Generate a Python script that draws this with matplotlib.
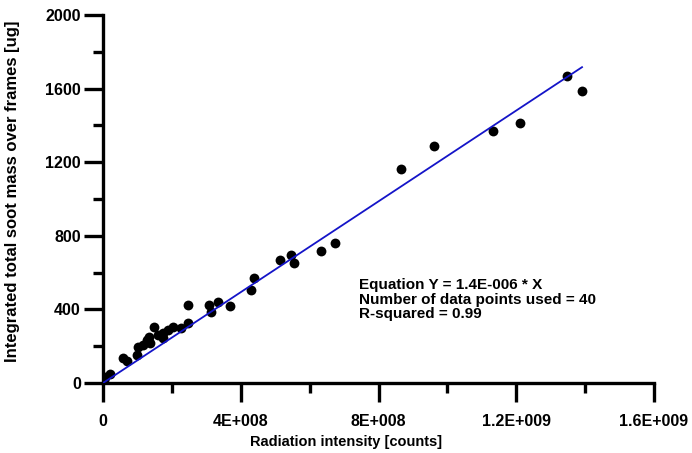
import matplotlib
matplotlib.use("Agg")
import matplotlib.pyplot as plt
from matplotlib.ticker import MultipleLocator, FixedLocator
import numpy as np

plt.rcParams['font.family'] = ['Liberation Sans', 'DejaVu Sans']

radiation = [0, 3e6, 6e6, 2.0e7, 5.9e7, 6.9e7, 9.8e7, 1.03e8, 1.15e8, 1.27e8,
             1.35e8, 1.36e8, 1.48e8, 1.6e8, 1.75e8, 1.75e8, 1.9e8, 2.02e8, 2.26e8,
             2.48e8, 2.48e8, 3.08e8, 3.14e8, 3.33e8, 3.70e8, 4.30e8, 4.39e8,
             5.15e8, 5.46e8, 5.54e8, 6.34e8, 6.75e8, 8.65e8, 9.62e8, 1.132e9,
             1.211e9, 1.348e9, 1.391e9]
soot_mass = [0, 15, 30, 48, 138, 118, 152, 195, 205, 234,
             252, 216, 306, 262, 270, 243, 290, 306, 301,
             324, 422, 424, 388, 440, 420, 507, 569,
             668, 696, 652, 719, 763, 1163, 1288, 1370,
             1415, 1669, 1585]
fit_slope = 1.234e-6

x_ticks = [0, 4e8, 8e8, 1.2e9, 1.6e9]
x_tick_labels = ["0", "4E+008", "8E+008", "1.2E+009", "1.6E+009"]
y_ticks = [0, 400, 800, 1200, 1600, 2000]
y_tick_labels = ["0", "400", "800", "1200", "1600", "2000"]

fig = plt.figure(figsize=(6.92, 4.53), dpi=100)
ax = fig.add_axes([103/692, 1-383/453, (654-103)/692, (383-15)/453])

ax.scatter(radiation, soot_mass, s=50, color='black', zorder=3, linewidths=0)
xl = np.array([0, max(radiation)])
ax.plot(xl, fit_slope*xl, color='#1414c8', lw=1.3, zorder=4)

ax.set_xlim(0, 1.6e9)
ax.set_ylim(0, 2000)
for s in ['top', 'right']:
    ax.spines[s].set_visible(False)
for s in ['left', 'bottom']:
    ax.spines[s].set_linewidth(2.4)

ax.xaxis.set_major_locator(FixedLocator(x_ticks))
ax.set_xticklabels(x_tick_labels)
ax.xaxis.set_minor_locator(MultipleLocator(2e8))
ax.yaxis.set_major_locator(FixedLocator(y_ticks))
ax.set_yticklabels(y_tick_labels)
ax.yaxis.set_minor_locator(MultipleLocator(200))

ax.tick_params(which='major', direction='out', length=14, width=2.4,
               labelsize=11.5)
ax.tick_params(which='minor', direction='out', length=7.5, width=2.4)
ax.tick_params(axis='x', which='major', pad=8)
ax.tick_params(axis='y', which='major', pad=2)
for lab in ax.get_xticklabels() + ax.get_yticklabels():
    lab.set_fontweight('bold')

ax.set_xlabel("Radiation intensity [counts]", fontsize=10.5, fontweight='bold')
ax.set_ylabel("Integrated total soot mass over frames [ug]", fontsize=12,
              fontweight='bold')
ax.xaxis.set_label_coords(0.442, -0.14)
ax.yaxis.set_label_coords(-0.15, 0.52)

ax.text(359/692, 1-278/453,
        "Equation Y = 1.4E-006 * X\nNumber of data points used = 40\nR-squared = 0.99",
        transform=fig.transFigure, fontsize=11, fontweight='bold',
        va='top', ha='left', linespacing=1.05)

fig.savefig("out.png", dpi=100)
